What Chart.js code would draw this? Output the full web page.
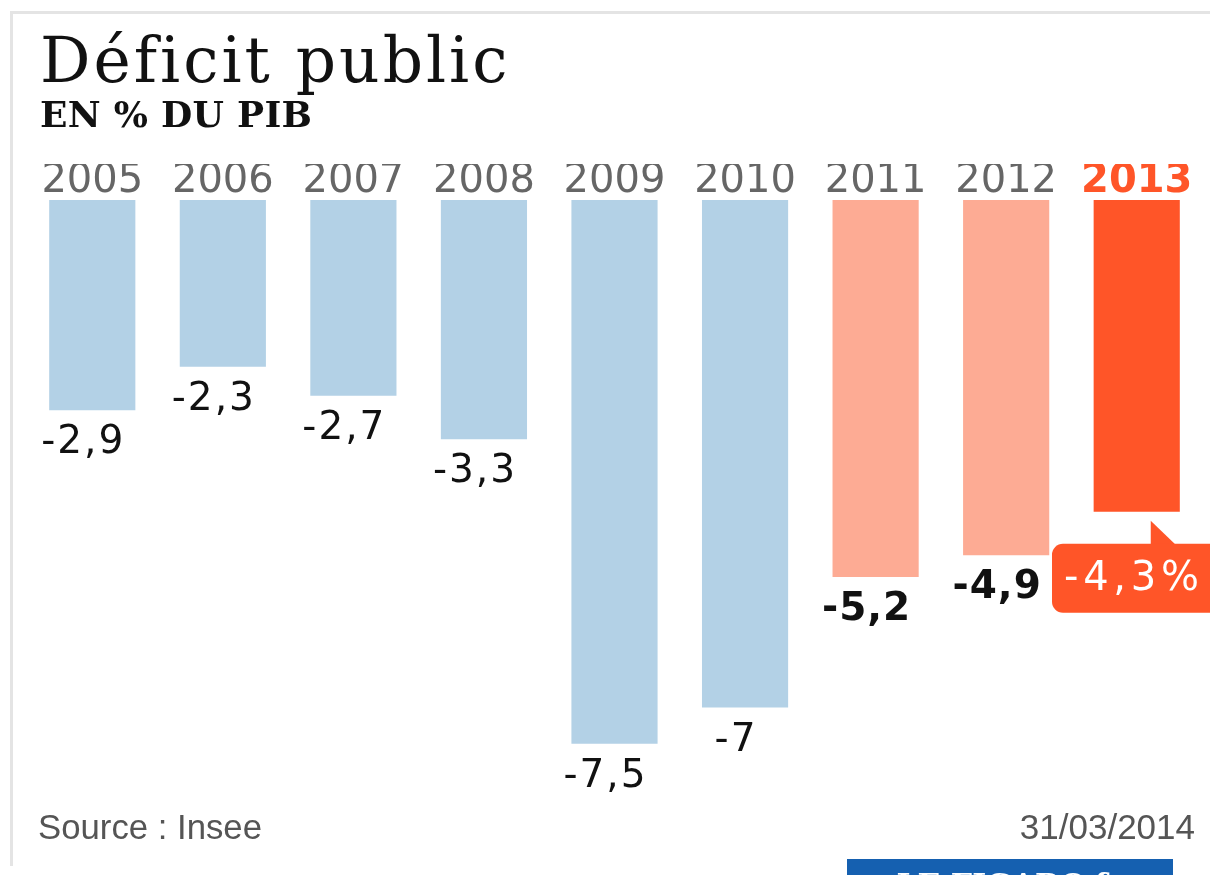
<!DOCTYPE html>
<html lang="fr">
<head>
<meta charset="utf-8">
<title>Déficit public</title>
<script src="https://cdn.jsdelivr.net/npm/chart.js@4.4.1/dist/chart.umd.min.js"></script>
<style>
  html, body { margin: 0; padding: 0; background: #fff; }
  #wrap { position: relative; width: 1210px; height: 875px; overflow: hidden; }
</style>
</head>
<body>
<div id="wrap"><canvas id="chart" width="1210" height="875"></canvas></div>
<script>
// données (déficit public en % du PIB)
const annees = ['2005', '2006', '2007', '2008', '2009', '2010', '2011', '2012', '2013'];
const deficit = [-2.9, -2.3, -2.7, -3.3, -7.5, -7, -5.2, -4.9, -4.3];
const couleursBarres = ['#b3d1e6', '#b3d1e6', '#b3d1e6', '#b3d1e6', '#b3d1e6', '#b3d1e6', '#fdab94', '#fdab94', '#ff5528'];
const titre = 'Déficit public';
const sousTitre = 'EN % DU PIB';
const source = 'Source : Insee';
const dateMaj = '31/03/2014';

const ORANGE = '#ff5528';

function formatFr(v) {
  return String(v).replace('.', ',');
}

// écrit un texte en l'étirant (interlettrage) jusqu'à la largeur voulue
function texteLarge(ctx, txt, x, y, largeur) {
  ctx.letterSpacing = '0px';
  const w = ctx.measureText(txt).width;
  const esp = Math.max(0, (largeur - w) / (txt.length - 1));
  ctx.letterSpacing = esp.toFixed(2) + 'px';
  ctx.fillText(txt, x, y);
  ctx.letterSpacing = '0px';
}

// cadre, titres, pied de page
const decorPlugin = {
  id: 'decor',
  beforeDraw(chart) {
    const ctx = chart.ctx;
    ctx.save();
    ctx.fillStyle = '#fff';
    ctx.fillRect(0, 0, chart.width, chart.height);
    // cadre gris clair
    ctx.fillStyle = '#e4e4e4';
    ctx.fillRect(10, 11, chart.width - 10, 3);
    ctx.fillRect(10, 11, 3, 855);
    ctx.restore();
  },
  afterDraw(chart) {
    const ctx = chart.ctx;
    ctx.save();
    ctx.fillStyle = '#111';
    ctx.textBaseline = 'alphabetic';
    ctx.textAlign = 'left';
    ctx.font = '63px "DejaVu Serif", serif';
    texteLarge(ctx, titre, 40, 82, 466);
    ctx.font = 'bold 36px "DejaVu Serif", serif';
    texteLarge(ctx, sousTitre, 40, 127, 272);

    ctx.fillStyle = '#555';
    ctx.font = '35px "Liberation Sans Narrow", "Liberation Sans", sans-serif';
    ctx.fillText(source, 38, 839, 224);
    ctx.textAlign = 'right';
    ctx.fillText(dateMaj, 1195, 839, 180);

    // logo (coupé en bas)
    ctx.fillStyle = '#1560b0';
    ctx.fillRect(847, 859, 326, 20);
    ctx.fillStyle = '#fff';
    ctx.textAlign = 'center';
    ctx.font = 'bold 30px "DejaVu Serif", serif';
    ctx.fillText('LE FIGARO.fr', 1010, 895, 290);
    ctx.restore();
  }
};

// étiquettes de valeurs sous les barres
const valeursPlugin = {
  id: 'valeurs',
  afterDatasetsDraw(chart) {
    const ctx = chart.ctx;
    const meta = chart.getDatasetMeta(0);
    ctx.save();
    meta.data.forEach((bar, i) => {
      const v = deficit[i];
      if (i === deficit.length - 1) {
        // bulle pour la dernière année
        const bx = 1052, by = bar.y + 32, bw = 170, bh = 69, r = 11;
        ctx.fillStyle = ORANGE;
        ctx.beginPath();
        ctx.moveTo(bar.x + 14, bar.y + 9);
        ctx.lineTo(bar.x + 14, by + 2);
        ctx.lineTo(bar.x + 40, by + 2);
        ctx.closePath();
        ctx.fill();
        ctx.beginPath();
        ctx.roundRect(bx, by, bw, bh, r);
        ctx.fill();
        ctx.fillStyle = '#fff';
        ctx.font = '40px "DejaVu Sans", Verdana, sans-serif';
        ctx.textAlign = 'left';
        ctx.textBaseline = 'middle';
        texteLarge(ctx, formatFr(v) + '%', 1064, by + bh / 2 + 1, 135);
        return;
      }
      const gras = i >= 6;
      ctx.fillStyle = '#111';
      ctx.font = (gras ? 'bold ' : '') + '39px "DejaVu Sans", Verdana, sans-serif';
      ctx.textAlign = 'center';
      ctx.textBaseline = 'middle';
      ctx.letterSpacing = gras ? '1px' : '2px';
      ctx.fillText(formatFr(v), bar.x - 9, bar.y + 33);
      ctx.letterSpacing = '0px';
    });
    ctx.restore();
  }
};

new Chart(document.getElementById('chart'), {
  type: 'bar',
  data: {
    labels: annees,
    datasets: [{
      data: deficit,
      backgroundColor: couleursBarres,
      borderWidth: 0,
      barPercentage: 0.66,
      categoryPercentage: 1.0
    }]
  },
  options: {
    responsive: false,
    animation: false,
    events: [],
    layout: {
      padding: { left: 27, right: 8, top: 164, bottom: 22.5 }
    },
    scales: {
      x: {
        position: 'top',
        grid: { display: false, drawTicks: false },
        border: { display: false },
        ticks: {
          padding: 0,
          maxRotation: 0,
          autoSkip: false,
          color: (c) => c.index === annees.length - 1 ? ORANGE : '#666',
          font: (c) => ({
            family: '"DejaVu Sans", Verdana, sans-serif',
            size: 40,
            weight: c.index === annees.length - 1 ? 'bold' : 'normal',
            lineHeight: 0.9
          })
        }
      },
      y: {
        display: false,
        min: -9,
        max: 0
      }
    },
    plugins: {
      legend: { display: false },
      tooltip: { enabled: false },
      title: { display: false }
    }
  },
  plugins: [decorPlugin, valeursPlugin]
});
</script>
</body>
</html>
